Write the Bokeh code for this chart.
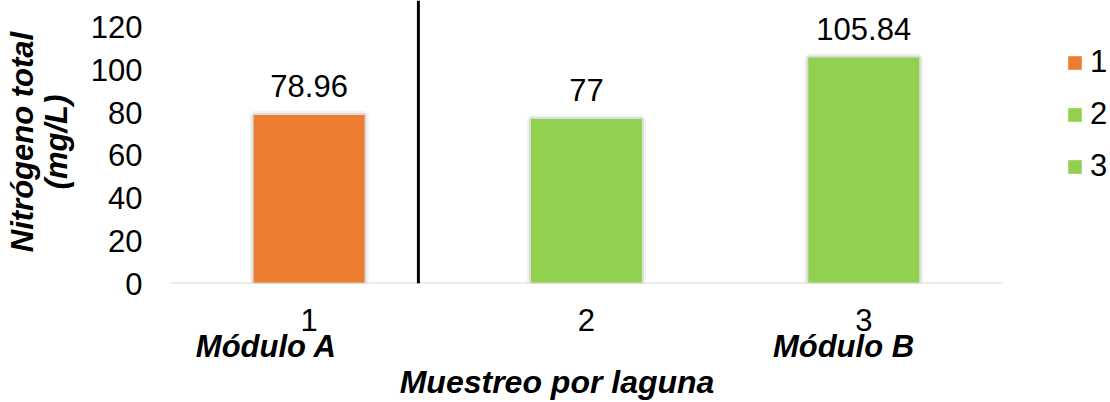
from bokeh.plotting import figure
from bokeh.models import (ColumnDataSource, LinearAxis, FixedTicker, Span,
                          LabelSet, Range1d)
from bokeh.core.properties import value
from bokeh.embed import file_html
from bokeh.resources import INLINE

# --- data -------------------------------------------------------------
samples = [1, 2, 3]
sample_labels = ["1", "2", "3"]
nitrogen = [78.96, 77, 105.84]
bar_colors = ["#ED7D31", "#92D050", "#92D050"]
y_ticks = [0, 20, 40, 60, 80, 100, 120]
module_names = ["Módulo A", "Módulo B"]
x_title = "Muestreo por laguna"
y_title_lines = ["Nitrógeno total", "(mg/L)"]

# --- layout constants ---------------------------------------------------
FONT = "Liberation Sans"
BAR_WIDTH = 0.4
module_x = [0.846, 2.927]
x_title_pos = 1.894
separator_x = 1.394

source = ColumnDataSource(dict(
    x=samples,
    y=nitrogen,
    color=bar_colors,
    label=sample_labels,
    txt=[f"{v:g}" for v in nitrogen],
))

p = figure(width=1110, height=402,
           x_range=Range1d(0.5, 0.5 + 940 / 277.3),
           y_range=Range1d(0, 132.55),
           output_backend="svg", toolbar_location=None,
           x_axis_type=None, y_axis_type=None,
           min_border_left=170, min_border_right=0,
           min_border_top=0, min_border_bottom=119)
p.outline_line_color = None
p.background_fill_color = "white"
p.border_fill_color = "white"
p.grid.visible = False

# soft shadow around the bars
p.vbar(x="x", top="y", width=BAR_WIDTH, source=source, fill_color=None,
       line_color="#000000", line_alpha=0.05, line_width=8)
p.vbar(x="x", top="y", width=BAR_WIDTH, source=source, fill_color=None,
       line_color="#000000", line_alpha=0.09, line_width=4)

p.vbar(x="x", top="y", width=BAR_WIDTH, source=source, fill_color="color",
       line_color=None, legend_field="label")

# category baseline
p.segment(x0=[min(samples) - 0.5], x1=[max(samples) + 0.5], y0=[0], y1=[0],
          line_color="#D9D9D9", line_width=2)

# separator between the two modules
p.add_layout(Span(location=separator_x, dimension="height",
                  line_color="black", line_width=3))

# value labels
p.add_layout(LabelSet(x="x", y="y", text="txt", source=source, y_offset=18,
                      text_align="center", text_baseline="alphabetic",
                      text_font=value(FONT), text_font_size=value("31px"),
                      text_color="black"))


def bare_axis(ticks, standoff, size="31px", style="normal"):
    ax = LinearAxis(ticker=FixedTicker(ticks=ticks))
    ax.axis_line_color = None
    ax.major_tick_line_color = None
    ax.minor_tick_line_color = None
    ax.major_tick_out = 0
    ax.major_tick_in = 0
    ax.major_label_standoff = standoff
    ax.major_label_text_font = FONT
    ax.major_label_text_font_size = size
    ax.major_label_text_font_style = style
    ax.major_label_text_color = "black"
    return ax


def title_axis(text, standoff):
    ax = bare_axis([], 0)
    ax.axis_label = text
    ax.axis_label_standoff = standoff
    ax.axis_label_text_font = FONT
    ax.axis_label_text_font_size = "31px"
    ax.axis_label_text_font_style = "bold italic"
    ax.axis_label_text_color = "black"
    return ax


# y axis: tick values, then the two title lines stacked outward
p.add_layout(bare_axis(y_ticks, 28), "left")
p.add_layout(title_axis(y_title_lines[1], 14), "left")
p.add_layout(title_axis(y_title_lines[0], -4), "left")

# x axis: sample numbers
xaxis = bare_axis(samples, 25)
xaxis.major_label_overrides = {s: l for s, l in zip(samples, sample_labels)}
p.add_layout(xaxis, "below")

# module names under the samples
mod_axis = bare_axis(module_x, -5, style="bold italic")
mod_axis.major_label_overrides = {m: n for m, n in zip(module_x, module_names)}
p.add_layout(mod_axis, "below")

# x title
x_title_axis = bare_axis([x_title_pos], -3, size="32px", style="bold italic")
x_title_axis.major_label_overrides = {x_title_pos: x_title}
p.add_layout(x_title_axis, "below")

# legend
lg = p.legend[0]
lg.location = (896, 99)
lg.border_line_color = None
lg.background_fill_alpha = 0
lg.padding = 0
lg.margin = 0
lg.spacing = 16
lg.glyph_width = 17
lg.glyph_height = 17
lg.label_height = 36
lg.label_standoff = 7
lg.label_text_font = FONT
lg.label_text_font_size = "31px"
lg.label_text_color = "black"

open("out.html", "w").write(file_html(p, INLINE))
